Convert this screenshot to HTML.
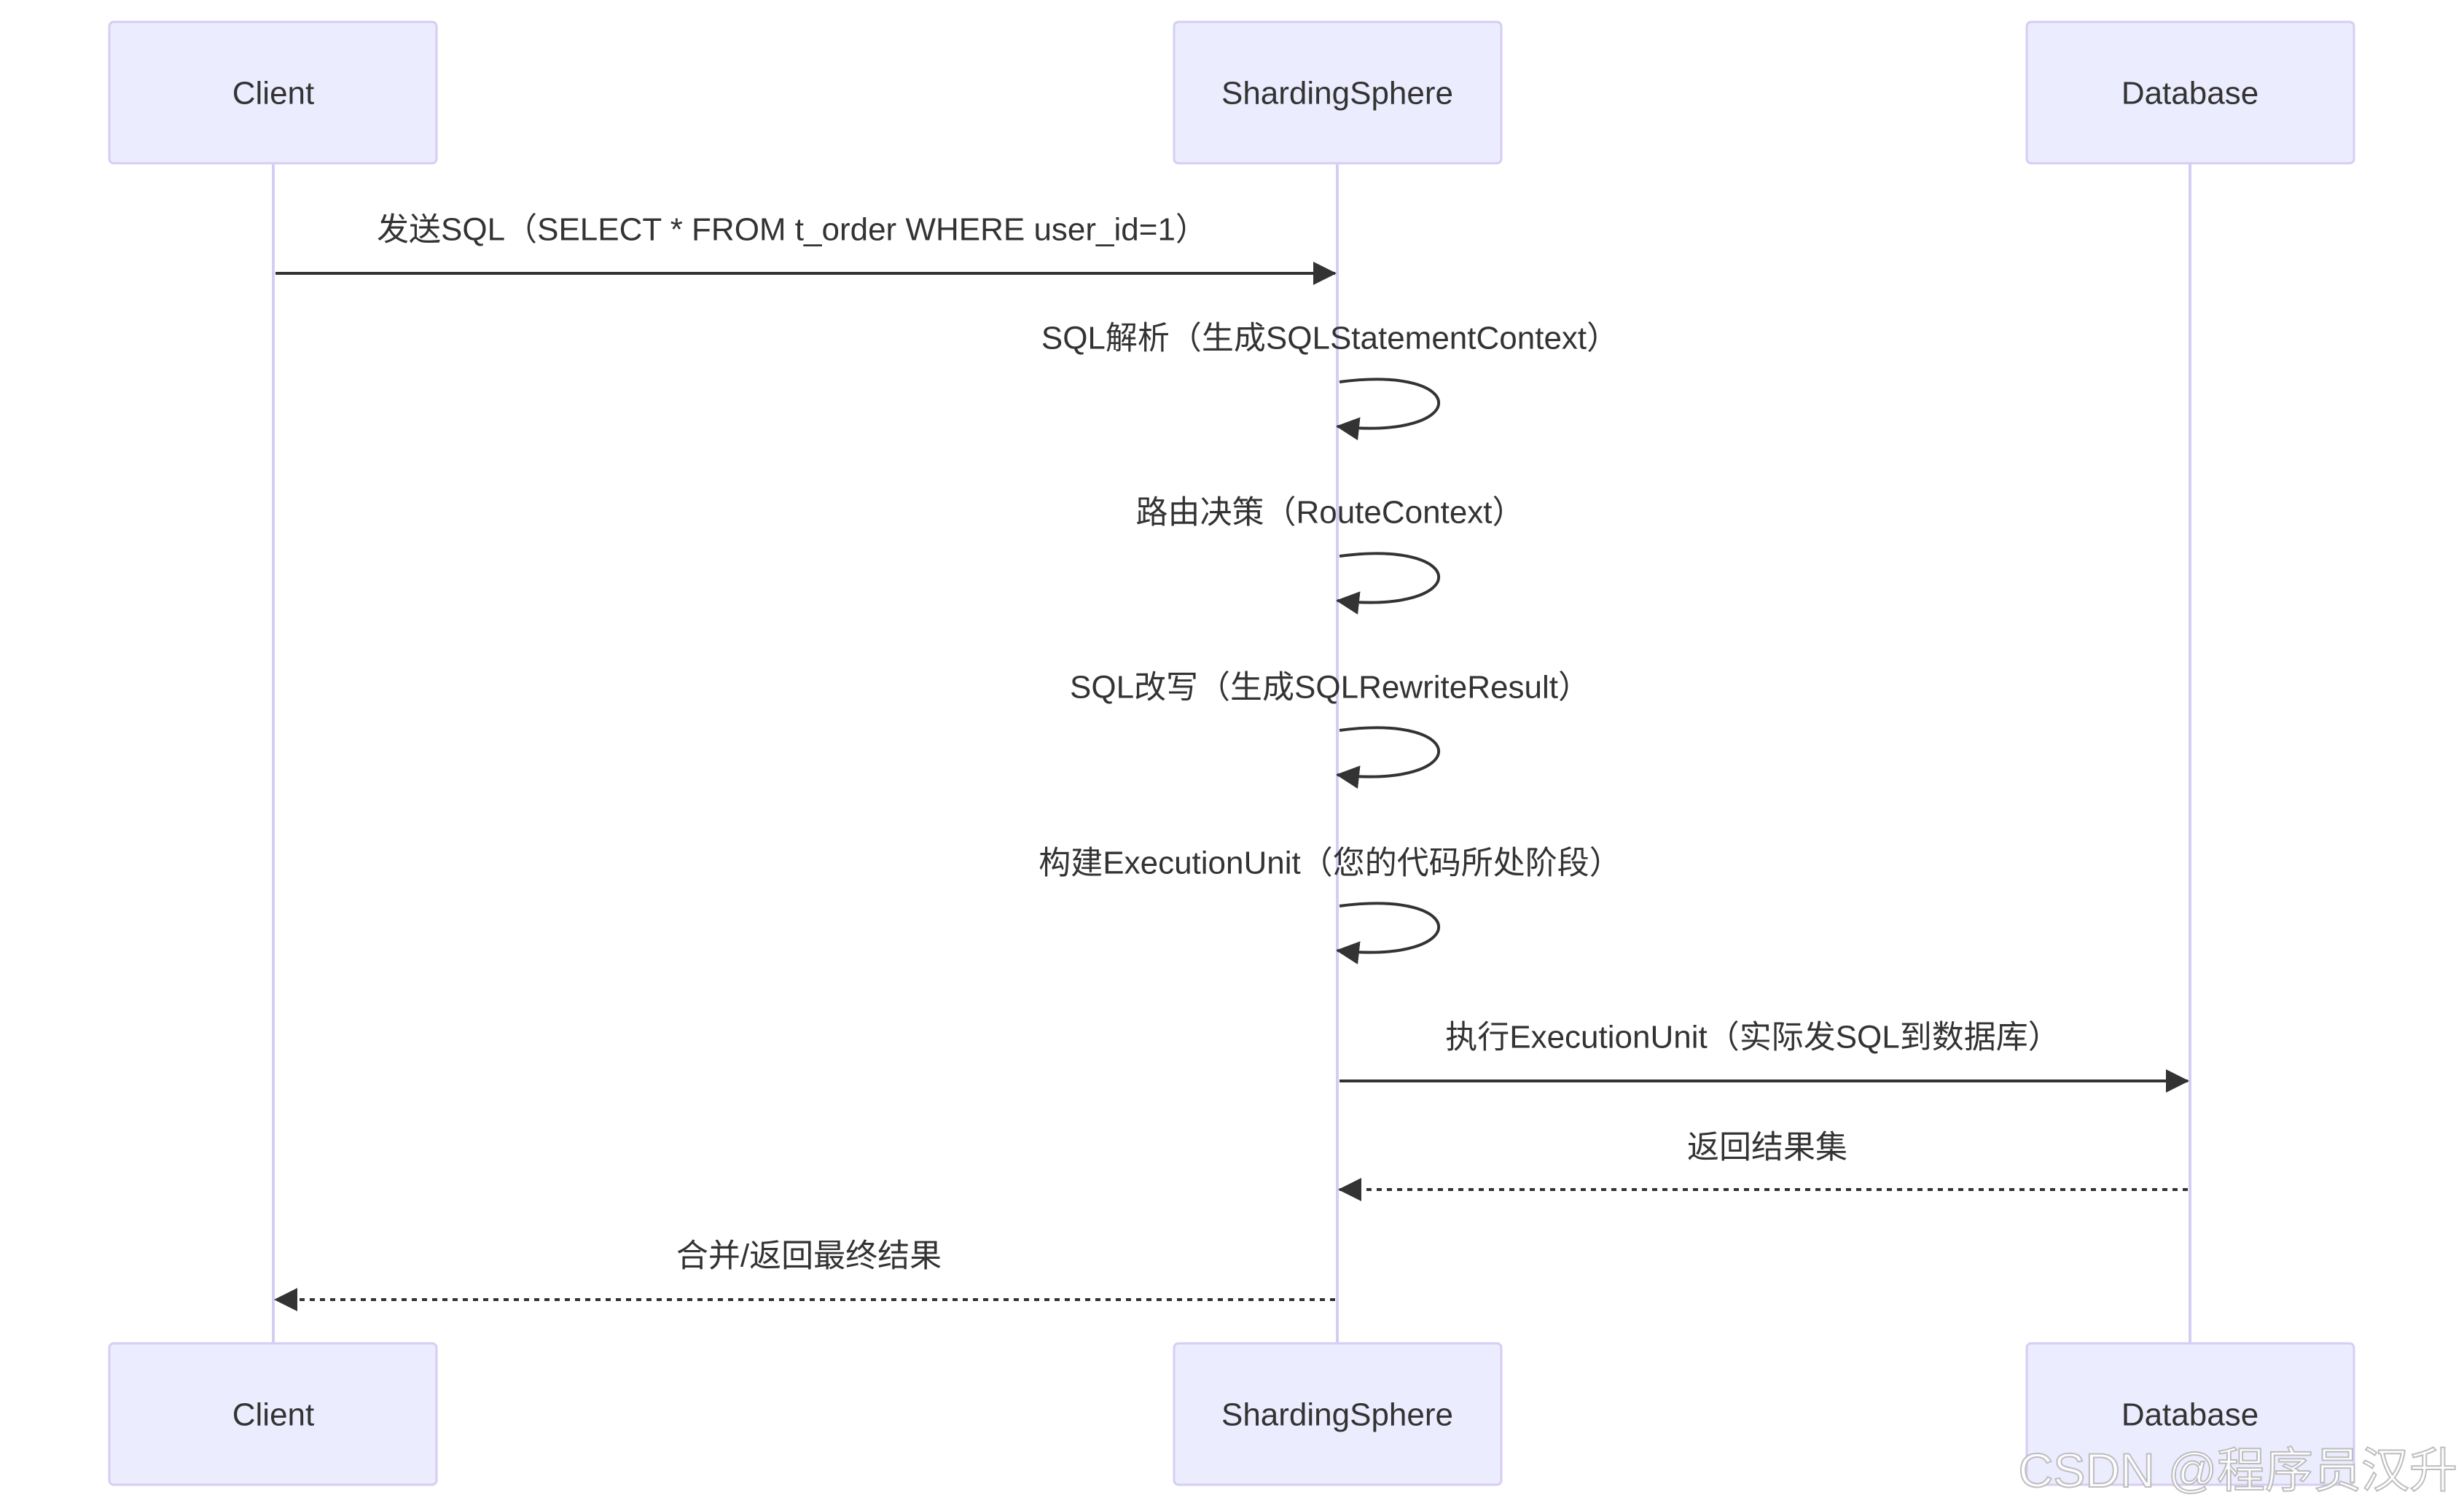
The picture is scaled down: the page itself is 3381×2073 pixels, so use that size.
<!DOCTYPE html>
<html><head><meta charset="utf-8"><style>
html,body{margin:0;padding:0;background:#fff;}
svg{display:block;}
text{font-family:"Liberation Sans","Noto Sans CJK SC",sans-serif;fill:#333;}
</style></head><body>
<svg width="3381" height="2073" viewBox="0 0 3381 2073" xmlns="http://www.w3.org/2000/svg">
<defs>
<marker id="ah" markerUnits="userSpaceOnUse" markerWidth="32" markerHeight="32" refX="30" refY="16" orient="auto">
<path d="M0,0 L32,16 L0,32 Z" fill="#333"/>
</marker>
</defs>
<g stroke="#d6cdf3" stroke-width="4">
<line x1="375" y1="224" x2="375" y2="1843"/>
<line x1="1835" y1="224" x2="1835" y2="1843"/>
<line x1="3005" y1="224" x2="3005" y2="1843"/>
</g>
<g fill="#ececff" stroke="#d6cdf3" stroke-width="3">
<rect x="150" y="30" width="449" height="194" rx="6"/>
<rect x="1611" y="30" width="449" height="194" rx="6"/>
<rect x="2781" y="30" width="449" height="194" rx="6"/>
<rect x="150" y="1843" width="449" height="194" rx="6"/>
<rect x="1611" y="1843" width="449" height="194" rx="6"/>
<rect x="2781" y="1843" width="449" height="194" rx="6"/>
</g>
<g font-size="44" text-anchor="middle" dominant-baseline="central">
<text x="375" y="128">Client</text>
<text x="1835" y="128">ShardingSphere</text>
<text x="3005" y="128">Database</text>
<text x="375" y="1941">Client</text>
<text x="1835" y="1941">ShardingSphere</text>
<text x="3005" y="1941">Database</text>

<text x="1087" y="315">发送SQL（SELECT * FROM t_order WHERE user_id=1）</text>
<text x="1825" y="464">SQL解析（生成SQLStatementContext）</text>
<text x="1825" y="703">路由决策（RouteContext）</text>
<text x="1825" y="943">SQL改写（生成SQLRewriteResult）</text>
<text x="1825" y="1184">构建ExecutionUnit（您的代码所处阶段）</text>
<text x="2405" y="1423">执行ExecutionUnit（实际发SQL到数据库）</text>
<text x="2425" y="1574">返回结果集</text>
<text x="1110" y="1723">合并/返回最终结果</text>
</g>
<g stroke="#333" stroke-width="4" fill="none">
<line x1="378" y1="375" x2="1832" y2="375" marker-end="url(#ah)"/>
<path d="M1838,524 C2020,500 2020,605 1835,585" marker-end="url(#ah)"/>
<path d="M1838,763 C2020,739 2020,844 1835,824" marker-end="url(#ah)"/>
<path d="M1838,1002 C2020,978 2020,1083 1835,1063" marker-end="url(#ah)"/>
<path d="M1838,1243 C2020,1219 2020,1324 1835,1304" marker-end="url(#ah)"/>
<line x1="1838" y1="1483" x2="3002" y2="1483" marker-end="url(#ah)"/>
<line x1="3002" y1="1632" x2="1838" y2="1632" stroke-dasharray="7,7" marker-end="url(#ah)"/>
<line x1="1832" y1="1783" x2="378" y2="1783" stroke-dasharray="7,7" marker-end="url(#ah)"/>
</g>
<text x="3372" y="2040" font-size="66" text-anchor="end" style="fill:#ffffff;stroke:#b8b8b8;stroke-width:2;opacity:0.9">CSDN @程序员汉升</text>
</svg>
</body></html>
